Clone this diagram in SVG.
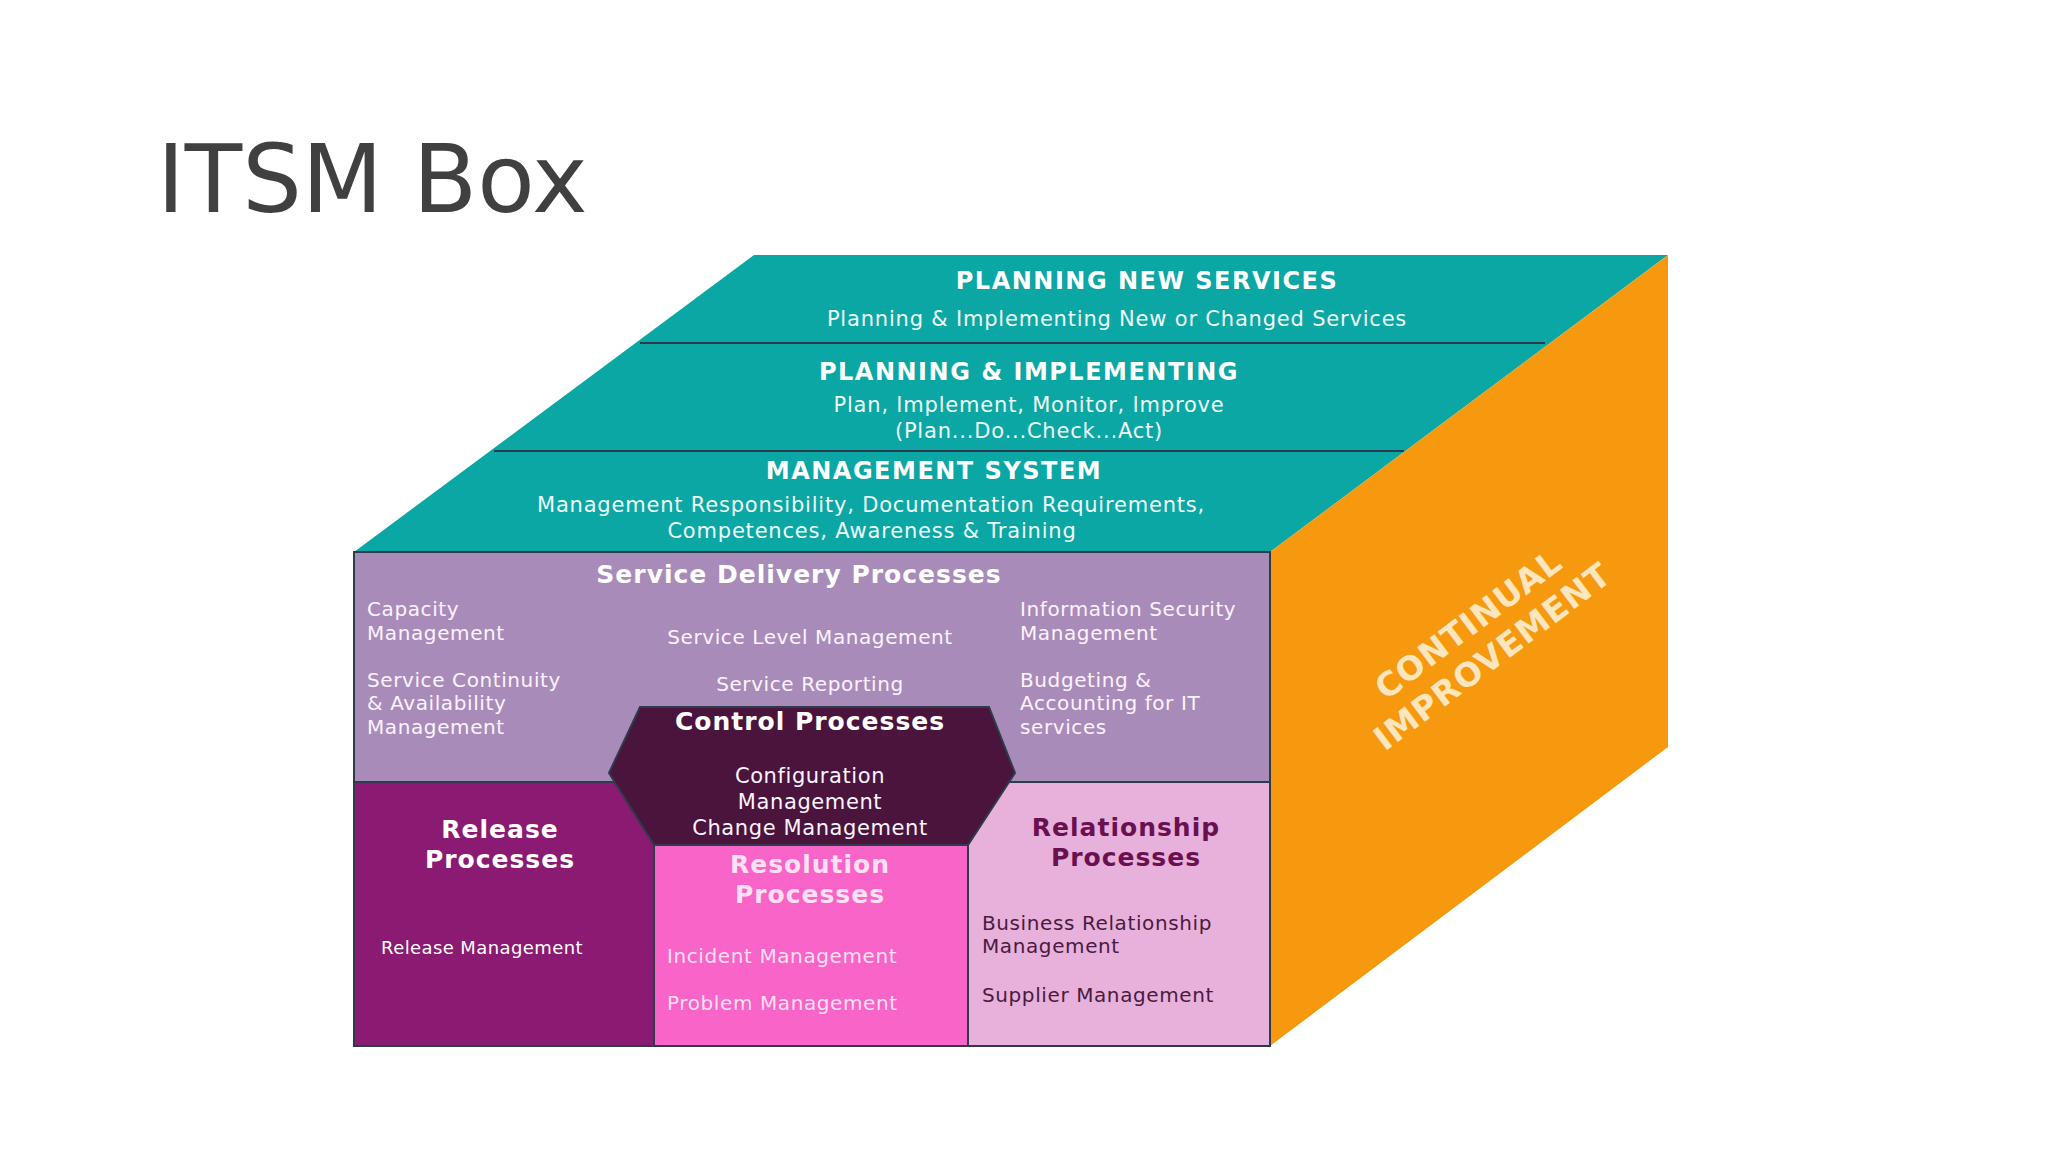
<svg xmlns="http://www.w3.org/2000/svg" width="2048" height="1152" viewBox="0 0 2048 1152">
<style>
text{font-family:"DejaVu Sans","Liberation Sans",sans-serif}
.h{font-weight:bold;font-size:24px;fill:#fff;text-anchor:middle;letter-spacing:1.5px}
.s{font-size:21px;fill:#f0fafa;text-anchor:middle;letter-spacing:0.8px}
.t{font-size:20px;fill:#fbf3ff;letter-spacing:0.6px}
.tc{font-size:20px;fill:#fbf3ff;text-anchor:middle;letter-spacing:0.6px}
.b{font-weight:bold;font-size:25px;text-anchor:middle;letter-spacing:1px}
</style>
<rect width="2048" height="1152" fill="#fff"/>
<text x="157" y="212" font-size="94" fill="#404040">ITSM Box</text>
<g id="top">
<polygon points="354,552 754,255 1668,255 1270,552" fill="#0aa7a5"/>
<line stroke="#2d3b4a" stroke-width="2" x1="640" y1="343" x2="1545" y2="343"/>
<line stroke="#2d3b4a" stroke-width="2" x1="494" y1="451" x2="1404" y2="451"/>
<text class="h" x="1147" y="289">PLANNING NEW SERVICES</text>
<text class="s" x="1117" y="326">Planning &amp; Implementing New or Changed Services</text>
<text class="h" x="1029" y="380">PLANNING &amp; IMPLEMENTING</text>
<text class="s" x="1029" y="412">Plan, Implement, Monitor, Improve</text>
<text class="s" x="1029" y="438">(Plan...Do...Check...Act)</text>
<text class="h" x="934" y="479">MANAGEMENT SYSTEM</text>
<text class="s" x="871" y="512">Management Responsibility, Documentation Requirements,</text>
<text class="s" x="872" y="538">Competences, Awareness &amp; Training</text>
</g>
<g id="side">
<polygon points="1270,552 1668,255 1668,747 1270,1046" fill="#f7990f"/>
<g transform="translate(1480,640) rotate(-37)" font-weight="bold" font-size="33" fill="#fde5bd" text-anchor="middle">
<text x="0" y="-8" style="letter-spacing:1px">CONTINUAL</text>
<text x="0" y="32" style="letter-spacing:1px">IMPROVEMENT</text>
</g>
</g>
<g id="service-delivery">
<rect x="354" y="552" width="916" height="230" fill="#a98bb9" stroke="#2d3b4a" stroke-width="2"/>
<text class="b" x="799" y="583" fill="#fff">Service Delivery Processes</text>
<text class="t" x="367" y="616">Capacity</text>
<text class="t" x="367" y="640">Management</text>
<text class="t" x="367" y="687">Service Continuity</text>
<text class="t" x="367" y="710">&amp; Availability</text>
<text class="t" x="367" y="734">Management</text>
<text class="tc" x="810" y="644">Service Level Management</text>
<text class="tc" x="810" y="691">Service Reporting</text>
<text class="t" x="1020" y="616">Information Security</text>
<text class="t" x="1020" y="640">Management</text>
<text class="t" x="1020" y="687">Budgeting &amp;</text>
<text class="t" x="1020" y="710">Accounting for IT</text>
<text class="t" x="1020" y="734">services</text>
</g>
<g id="release">
<rect x="354" y="782" width="300" height="264" fill="#8b1a72" stroke="#2d3b4a" stroke-width="2"/>
<text class="b" x="500" y="838" fill="#fff">Release</text>
<text class="b" x="500" y="868" fill="#fff">Processes</text>
<text x="482" y="954" font-size="18" fill="#fff" text-anchor="middle" style="letter-spacing:0.4px">Release Management</text>
</g>
<g id="resolution">
<rect x="654" y="845" width="314" height="201" fill="#f864c8" stroke="#2d3b4a" stroke-width="2"/>
<text class="b" x="810" y="873" fill="#fde0f2">Resolution</text>
<text class="b" x="810" y="903" fill="#fde0f2">Processes</text>
<text class="t" x="667" y="963" style="fill:#fde0f2">Incident Management</text>
<text class="t" x="667" y="1010" style="fill:#fde0f2">Problem Management</text>
</g>
<g id="relationship">
<rect x="968" y="782" width="302" height="264" fill="#e8b1dc" stroke="#2d3b4a" stroke-width="2"/>
<text class="b" x="1126" y="836" fill="#6a1050">Relationship</text>
<text class="b" x="1126" y="866" fill="#6a1050">Processes</text>
<text class="t" x="982" y="930" style="fill:#4a1a40">Business Relationship</text>
<text class="t" x="982" y="953" style="fill:#4a1a40">Management</text>
<text class="t" x="982" y="1002" style="fill:#4a1a40">Supplier Management</text>
</g>
<g id="control">
<polygon points="640,707 989,707 1015,773 968,845 654,845 609,773" fill="#4a143c" stroke="#2d3b4a" stroke-width="2"/>
<text class="b" x="810" y="730" fill="#fff">Control Processes</text>
<text class="tc" x="810" y="783" style="font-size:21px">Configuration</text>
<text class="tc" x="810" y="809" style="font-size:21px">Management</text>
<text class="tc" x="810" y="835" style="font-size:21px">Change Management</text>
</g>
<g id="connectors"/>
</svg>
